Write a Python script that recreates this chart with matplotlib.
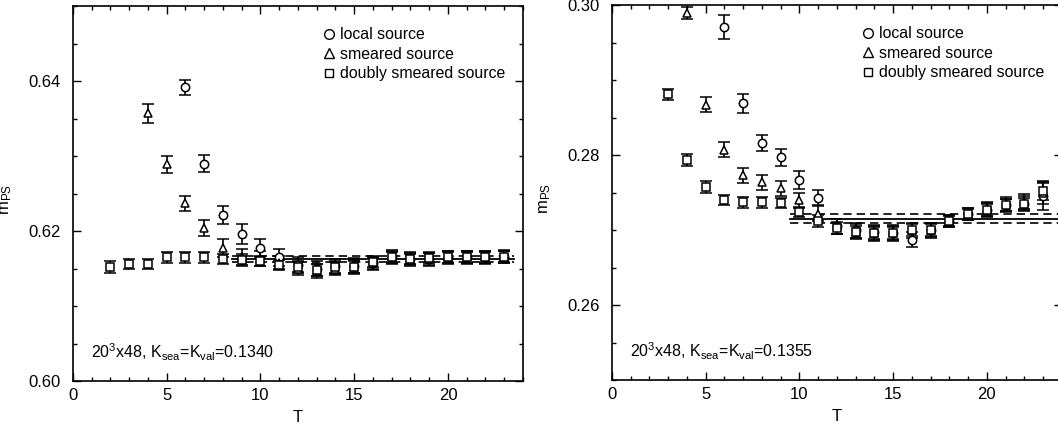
import matplotlib
matplotlib.use("Agg")
import matplotlib.pyplot as plt
from matplotlib.ticker import MultipleLocator, FormatStrFormatter
from matplotlib.lines import Line2D

plt.rcParams.update({
    "font.family": ["Liberation Sans", "DejaVu Sans"],
    "mathtext.fontset": "custom",
    "mathtext.rm": "Liberation Sans",
    "mathtext.it": "Liberation Sans:italic",
    "axes.linewidth": 1.2,
})

# ---- left panel (K = 0.1340) ----
t_local_l = list(range(6, 24))
local_l = [0.6392, 0.6290, 0.6221, 0.6196, 0.6177, 0.6165, 0.6155, 0.6150, 0.6153,
           0.6154, 0.6158, 0.6165, 0.6163, 0.6163, 0.6165, 0.6165, 0.6165, 0.6166]
local_l_err = [0.0010, 0.0011, 0.0012, 0.0013, 0.0012, 0.0011, 0.0010, 0.0010, 0.0010,
               0.0010, 0.0009, 0.0009, 0.0009, 0.0009, 0.0009, 0.0009, 0.0009, 0.0009]

t_smear_l = list(range(4, 24))
smear_l = [0.6357, 0.6289, 0.6237, 0.6204, 0.6177, 0.6165, 0.6163, 0.6158, 0.6150, 0.6147,
           0.6150, 0.6152, 0.6157, 0.6166, 0.6163, 0.6163, 0.6165, 0.6165, 0.6165, 0.6166]
smear_l_err = [0.0013, 0.0011, 0.0010, 0.0011, 0.0012, 0.0011, 0.0010, 0.0009, 0.0009, 0.0009,
               0.0009, 0.0009, 0.0009, 0.0009, 0.0008, 0.0008, 0.0008, 0.0008, 0.0008, 0.0008]

t_doubly_l = list(range(2, 24))
doubly_l = [0.6152, 0.6156, 0.6156, 0.6165, 0.6165, 0.6165, 0.6163, 0.6162, 0.6160, 0.6155, 0.6152,
            0.6148, 0.6152, 0.6152, 0.6159, 0.6165, 0.6163, 0.6164, 0.6165, 0.6165, 0.6165, 0.6166]
doubly_l_err = [0.0008, 0.0007, 0.0007, 0.0007, 0.0007, 0.0007, 0.0007, 0.0007, 0.0007, 0.0007, 0.0008,
                0.0008, 0.0008, 0.0008, 0.0007, 0.0007, 0.0007, 0.0007, 0.0007, 0.0007, 0.0007, 0.0007]

fit_l = 0.6163
fit_l_err = 0.0004
fit_l_range = [8.5, 23.5]

# ---- right panel (K = 0.1355) ----
t_local_r = list(range(6, 24))
local_r = [0.2971, 0.2869, 0.2816, 0.2797, 0.2767, 0.2743, 0.2705, 0.2700, 0.2697,
           0.2696, 0.2687, 0.2700, 0.2712, 0.2721, 0.2727, 0.2733, 0.2735, 0.2745]
local_r_err = [0.0016, 0.0013, 0.0011, 0.0011, 0.0012, 0.0010, 0.0010, 0.0010, 0.0010,
               0.0010, 0.0010, 0.0010, 0.0008, 0.0008, 0.0009, 0.0009, 0.0010, 0.0018]

t_smear_r = list(range(4, 24))
smear_r = [0.2989, 0.2867, 0.2807, 0.2773, 0.2764, 0.2756, 0.2740, 0.2722, 0.2705, 0.2698,
           0.2696, 0.2697, 0.2700, 0.2700, 0.2712, 0.2721, 0.2728, 0.2735, 0.2738, 0.2750]
smear_r_err = [0.0008, 0.0010, 0.0010, 0.0010, 0.0010, 0.0010, 0.0010, 0.0010, 0.0010, 0.0010,
               0.0010, 0.0010, 0.0010, 0.0009, 0.0008, 0.0008, 0.0009, 0.0009, 0.0010, 0.0015]

t_doubly_r = list(range(3, 24))
doubly_r = [0.2881, 0.2793, 0.2757, 0.2740, 0.2737, 0.2737, 0.2736, 0.2724, 0.2712, 0.2703, 0.2698,
            0.2696, 0.2696, 0.2700, 0.2700, 0.2712, 0.2721, 0.2727, 0.2733, 0.2735, 0.2752]
doubly_r_err = [0.0007, 0.0008, 0.0008, 0.0007, 0.0007, 0.0007, 0.0007, 0.0007, 0.0008, 0.0008, 0.0008,
                0.0008, 0.0008, 0.0008, 0.0008, 0.0007, 0.0007, 0.0008, 0.0008, 0.0008, 0.0012]

fit_r = 0.2715
fit_r_err = 0.0006
fit_r_range = [9.5, 24.0]


def draw_panel(ax, series, fit, fit_err, fit_range, ylim, label):
    for t, v, e, m in series:
        ax.errorbar(t, v, yerr=e, fmt=m, mfc="white", mec="black", ms=6,
                    ecolor="black", elinewidth=1.2, capsize=4, capthick=1.2,
                    mew=1.1, color="black")
    ax.plot(fit_range, [fit, fit], color="black", lw=1.3)
    ax.plot(fit_range, [fit + fit_err] * 2, color="black", lw=1.2, ls=(0, (5, 3)))
    ax.plot(fit_range, [fit - fit_err] * 2, color="black", lw=1.2, ls=(0, (5, 3)))

    ax.set_xlim(0, 24)
    ax.set_ylim(*ylim)
    ax.xaxis.set_major_locator(MultipleLocator(5))
    ax.xaxis.set_minor_locator(MultipleLocator(1))
    ax.yaxis.set_major_locator(MultipleLocator(0.02))
    ax.yaxis.set_minor_locator(MultipleLocator(0.005))
    ax.yaxis.set_major_formatter(FormatStrFormatter("%.2f"))
    ax.tick_params(which="both", direction="in", top=True, right=True,
                   labelsize=12, width=1)
    ax.tick_params(axis="y", pad=9)
    ax.tick_params(axis="x", pad=5)
    ax.tick_params(which="major", length=6)
    ax.tick_params(which="minor", length=3)
    ax.set_xlabel("T", fontsize=12, labelpad=5)
    ax.set_ylabel(r"m$_{\rm PS}$", fontsize=12)
    ax.yaxis.set_label_coords(-0.132, 0.483)

    handles = [
        Line2D([], [], marker="o", ls="none", mfc="white", mec="black", ms=7),
        Line2D([], [], marker="^", ls="none", mfc="white", mec="black", ms=7),
        Line2D([], [], marker="s", ls="none", mfc="white", mec="black", ms=6),
    ]
    ax.legend(handles, ["local source", "smeared source", "doubly smeared source"],
              loc="upper left", bbox_to_anchor=(0.545, 0.96), frameon=False,
              handlelength=0.6, handletextpad=0.35, labelspacing=0.28,
              borderaxespad=0, fontsize=11.4)
    ax.text(0.04, 0.077, label, transform=ax.transAxes, fontsize=11.5, va="center")


fig = plt.figure(figsize=(10.58, 4.28), dpi=100)
ax1 = fig.add_axes([0.069, 0.1098, 0.4253, 0.876])
ax2 = fig.add_axes([0.5784, 0.1121, 0.4253, 0.876])

draw_panel(ax1,
           [(t_local_l, local_l, local_l_err, "o"),
            (t_smear_l, smear_l, smear_l_err, "^"),
            (t_doubly_l, doubly_l, doubly_l_err, "s")],
           fit_l, fit_l_err, fit_l_range, (0.60, 0.65),
           r"20$^3$x48, K$_{\rm sea}$=K$_{\rm val}$=0.1340")
draw_panel(ax2,
           [(t_local_r, local_r, local_r_err, "o"),
            (t_smear_r, smear_r, smear_r_err, "^"),
            (t_doubly_r, doubly_r, doubly_r_err, "s")],
           fit_r, fit_r_err, fit_r_range, (0.25, 0.30),
           r"20$^3$x48, K$_{\rm sea}$=K$_{\rm val}$=0.1355")

fig.savefig("out.png", dpi=100)
